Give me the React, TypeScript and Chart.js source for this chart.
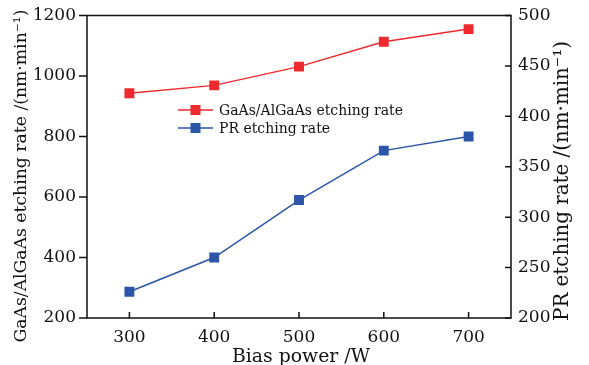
import React, { useEffect, useRef } from "react";
import { Chart, registerables } from "chart.js";

Chart.register(...registerables);

const biasPower = [300, 400, 500, 600, 700];
const gaasRate = [943, 969, 1031, 1113, 1155];
const prRate = [226, 260, 317, 366, 380];
const xTicks = [300, 400, 500, 600, 700];
const leftTicks = [200, 400, 600, 800, 1000, 1200];
const rightTicks = [200, 250, 300, 350, 400, 450, 500];

const xTitle = "Bias power /W";
const leftTitle = "GaAs/AlGaAs etching rate /(nm\u00b7min\u207b\u00b9)";
const rightTitle = "PR etching rate /(nm\u00b7min\u207b\u00b9)";
const legendLabels = ["GaAs/AlGaAs etching rate", "PR etching rate"];

const RED = "#ee2a2e";
const BLUE = "#2a55a8";
const FONT = "'DejaVu Serif', serif";

function fitSize(ctx: CanvasRenderingContext2D, text: string, target: number) {
  ctx.font = `20px ${FONT}`;
  const w = ctx.measureText(text).width;
  return (20 * target) / w;
}

const decorPlugin = {
  id: "decor",
  afterDraw(chart: any) {
    const { ctx, chartArea: a, scales } = chart;
    const x = scales.x, y = scales.y, y1 = scales.y1;
    ctx.save();
    ctx.strokeStyle = "#111";
    ctx.lineWidth = 1.5;
    ctx.strokeRect(a.left, a.top, a.right - a.left, a.bottom - a.top);
    ctx.beginPath();
    leftTicks.forEach((v) => {
      const p = y.getPixelForValue(v);
      ctx.moveTo(a.left - 8, p);
      ctx.lineTo(a.left, p);
    });
    rightTicks.forEach((v) => {
      const p = y1.getPixelForValue(v);
      ctx.moveTo(a.right - 6, p);
      ctx.lineTo(a.right, p);
    });
    xTicks.forEach((v) => {
      const p = x.getPixelForValue(v);
      ctx.moveTo(p, a.bottom - 6);
      ctx.lineTo(p, a.bottom);
    });
    ctx.stroke();

    // titles
    ctx.fillStyle = "#111";
    ctx.textAlign = "center";
    ctx.textBaseline = "alphabetic";
    const xs = fitSize(ctx, xTitle, 138);
    ctx.font = `${xs.toFixed(2)}px ${FONT}`;
    ctx.fillText(xTitle, 301, 362);
    ctx.textBaseline = "middle";
    const ys = fitSize(ctx, leftTitle, 333);
    ctx.font = `${ys.toFixed(2)}px ${FONT}`;
    ctx.save();
    ctx.translate(22, 176);
    ctx.rotate(-Math.PI / 2);
    ctx.fillText(leftTitle, 0, 0);
    ctx.restore();
    ctx.save();
    const rs = fitSize(ctx, rightTitle, 280);
    ctx.font = `${rs.toFixed(2)}px ${FONT}`;
    ctx.translate(563, 181);
    ctx.rotate(-Math.PI / 2);
    ctx.fillText(rightTitle, 0, 0);
    ctx.restore();

    // legend
    const colors = [RED, BLUE];
    const rows = [110, 128];
    ctx.font = `14px ${FONT}`;
    ctx.textAlign = "left";
    rows.forEach((ry, i) => {
      ctx.strokeStyle = colors[i];
      ctx.lineWidth = 1.5;
      ctx.beginPath();
      ctx.moveTo(178, ry);
      ctx.lineTo(213, ry);
      ctx.stroke();
      ctx.fillStyle = colors[i];
      ctx.fillRect(195.5 - 5, ry - 5, 10, 10);
      ctx.fillStyle = "#111";
      ctx.fillText(legendLabels[i], 219, ry + 1);
    });
    ctx.restore();
  },
};

export default function App() {
  const ref = useRef<HTMLCanvasElement>(null);
  useEffect(() => {
    document.body.style.margin = "0";
    const tickFont = { family: FONT, size: 17 };
    const plain = (v: any) => String(v);
    const noVPad = (s: any) => { s.paddingTop = 0; s.paddingBottom = 0; };
    const chart = new Chart(ref.current!, {
      type: "line",
      data: {
        datasets: [
          {
            label: legendLabels[0],
            data: biasPower.map((v, i) => ({ x: v, y: gaasRate[i] })),
            borderColor: RED,
            backgroundColor: RED,
            borderWidth: 1.5,
            pointStyle: "rect",
            pointRadius: 7,
            pointBorderWidth: 0,
            yAxisID: "y",
          },
          {
            label: legendLabels[1],
            data: biasPower.map((v, i) => ({ x: v, y: prRate[i] })),
            borderColor: BLUE,
            backgroundColor: BLUE,
            borderWidth: 1.5,
            pointStyle: "rect",
            pointRadius: 7,
            pointBorderWidth: 0,
            yAxisID: "y1",
          },
        ],
      },
      options: {
        animation: false,
        responsive: false,
        maintainAspectRatio: false,
        layout: { padding: { top: 15.5, left: 0, right: 0, bottom: 0 } },
        plugins: { legend: { display: false }, tooltip: { enabled: false } },
        scales: {
          x: {
            type: "linear",
            min: 250,
            max: 750,
            grid: { display: false, drawTicks: false },
            border: { display: false },
            afterBuildTicks: (s: any) => { s.ticks = xTicks.map((v) => ({ value: v })); },
            afterFit: (s: any) => { s.height = 47; s.paddingLeft = 0; s.paddingRight = 0; },
            ticks: { font: tickFont, color: "#111", padding: 9, maxRotation: 0, callback: plain },
          },
          y: {
            type: "linear",
            position: "left",
            min: 200,
            max: 1200,
            grid: { display: false, drawTicks: false },
            border: { display: false },
            afterBuildTicks: (s: any) => { s.ticks = leftTicks.map((v) => ({ value: v })); },
            afterFit: (s: any) => { s.width = 87; noVPad(s); },
            ticks: { font: tickFont, color: "#111", padding: 11, callback: plain },
          },
          y1: {
            type: "linear",
            position: "right",
            min: 200,
            max: 500,
            grid: { display: false, drawTicks: false },
            border: { display: false },
            afterBuildTicks: (s: any) => { s.ticks = rightTicks.map((v) => ({ value: v })); },
            afterFit: (s: any) => { s.width = 78; noVPad(s); },
            ticks: { font: tickFont, color: "#111", padding: 7, callback: plain },
          },
        },
      },
      plugins: [decorPlugin],
    });
    return () => chart.destroy();
  }, []);
  return (
    <div style={{ width: 589, height: 365 }}>
      <canvas ref={ref} width={589} height={365} />
    </div>
  );
}
